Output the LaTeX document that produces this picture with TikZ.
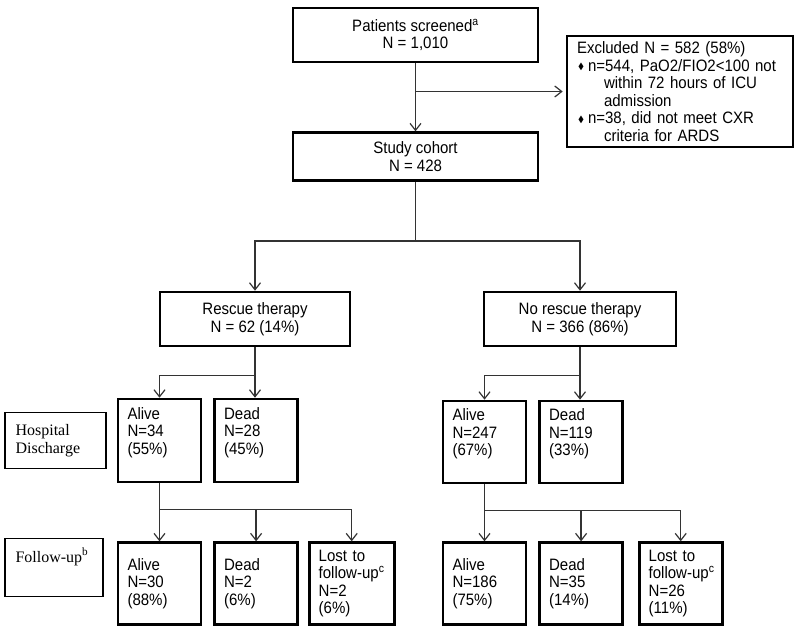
\documentclass[tikz,border=0pt]{standalone}
\usepackage{amssymb}
\usepackage{fontspec}
\setmainfont{Liberation Sans}[FakeStretch=0.91]
\newfontfamily\stageserif{Liberation Serif}
\usetikzlibrary{arrows.meta, positioning, calc}

\newcommand{\boxfont}{\fontsize{16.5}{17.5}\selectfont}
\newcommand{\stagefont}{\stageserif\fontsize{16}{18}\selectfont}
\newcommand{\dmd}{\makebox[11pt][l]{\hspace{1pt}\raisebox{1.5pt}{\fontsize{9}{9}\selectfont$\blacklozenge$}}}

\begin{document}
\begin{tikzpicture}[
    x=1pt, y=1pt,
    node distance=11pt,
    main/.style={rectangle, draw, line width=2.6pt, align=center, minimum width=245pt, minimum height=54pt, inner sep=3pt, font=\boxfont},
    outcome/.style={rectangle, draw, line width=2.6pt, text width=64pt, inner xsep=9.5pt, inner ysep=2pt, minimum height=82pt, align=left, font=\boxfont},
    stage/.style={rectangle, draw, line width=1.3pt, text width=80pt, inner xsep=10.5pt, minimum height=56pt, align=left, font=\stagefont},
    line/.style={draw=black!80, line width=1.3pt},
    arrow/.style={line, -{Straight Barb[length=7pt, width=11pt, line width=1.2pt]}}
]
    \path[use as bounding box, fill=white] (0,0) rectangle (800,-630);

    % Nodes
    \node [main] (screen) at (415.5,-35) {Patients screened\textsuperscript{a}\\N = 1,010};
    \node [main, minimum height=48pt, below=68pt of screen] (cohort) {Study cohort\\N = 428};
    \node [main, align=left, text width=206pt, inner xsep=10pt, minimum width=226pt, minimum height=111pt] (excl) at (680,-91.5)
        {Excluded N = 582 (58\%)\\
         \dmd n=544, PaO2/FIO2<100 not\\
         \hspace*{27pt}within 72 hours of ICU\\
         \hspace*{27pt}admission\\
         \dmd n=38, did not meet CXR\\
         \hspace*{27pt}criteria for ARDS};

    \node [main, minimum width=190pt] (rescue) at (255,-319) {Rescue therapy\\N = 62 (14\%)};
    \node [main, minimum width=192pt] (norescue) at (580,-319) {No rescue therapy\\N = 366 (86\%)};

    \node [outcome, minimum height=83pt, text depth=54pt] (halive1) at (159.5,-440.5) {Alive\\N=34\\(55\%)};
    \node [outcome, minimum height=83pt, text depth=54pt, right=11pt of halive1] (hdead1) {Dead\\N=28\\(45\%)};
    \node [stage, left=10pt of halive1] (hlab) {Hospital\\Discharge};

    \node [outcome, text depth=54pt] (halive2) at (484.5,-442) {Alive\\N=247\\(67\%)};
    \node [outcome, text depth=54pt, right=11pt of halive2] (hdead2) {Dead\\N=119\\(33\%)};

    \node [outcome, below=58pt of halive1] (falive1) {Alive\\N=30\\(88\%)};
    \node [outcome, right=11pt of falive1] (fdead1) {Dead\\N=2\\(6\%)};
    \node [outcome, text width=66pt, right=9pt of fdead1] (flost1) {Lost to\\\mbox{follow-up\textsuperscript{c}}\\N=2\\(6\%)};
    \node [stage, minimum height=58pt, text width=77pt, text depth=25pt, left=13pt of falive1, yshift=16pt] (flab) {Follow-up\textsuperscript{b}};

    \node [outcome, below=57pt of halive2] (falive2) {Alive\\N=186\\(75\%)};
    \node [outcome, right=11pt of falive2] (fdead2) {Dead\\N=35\\(14\%)};
    \node [outcome, right=14pt of fdead2] (flost2) {Lost to\\\mbox{follow-up\textsuperscript{c}}\\N=26\\(11\%)};

    % Paths
    \coordinate (exsplit) at (screen.south |- excl.west);
    \draw [arrow] (screen) -- (cohort);
    \draw [arrow, shorten >=3pt] (exsplit) -- (excl.west);

    \coordinate (split1) at ($(cohort.south)+(0,-59)$);
    \draw [line] (cohort) -- (split1);
    \draw [arrow] (split1) -| (rescue);
    \draw [arrow] (split1) -| (norescue);

    \coordinate (split2) at ($(rescue.south)+(0,-28)$);
    \draw [line] (rescue) -- (split2);
    \draw [arrow] (split2) -| (halive1);
    \draw [arrow] (split2) -- (split2 |- hdead1.north);

    \coordinate (split3) at ($(norescue.south)+(0,-28)$);
    \draw [line] (norescue) -- (split3);
    \draw [arrow] (split3) -| (halive2);
    \draw [arrow] (split3) -- (split3 |- hdead2.north);

    \coordinate (split4) at ($(halive1.south)+(0,-26)$);
    \draw [arrow] (halive1) -- (falive1);
    \draw [arrow] (split4) -| (fdead1);
    \draw [arrow] (split4) -| (flost1);

    \coordinate (split5) at ($(halive2.south)+(0,-26)$);
    \draw [arrow] (halive2) -- (falive2);
    \draw [arrow] (split5) -| (fdead2);
    \draw [arrow] (split5) -| (flost2);

\end{tikzpicture}
\end{document}
